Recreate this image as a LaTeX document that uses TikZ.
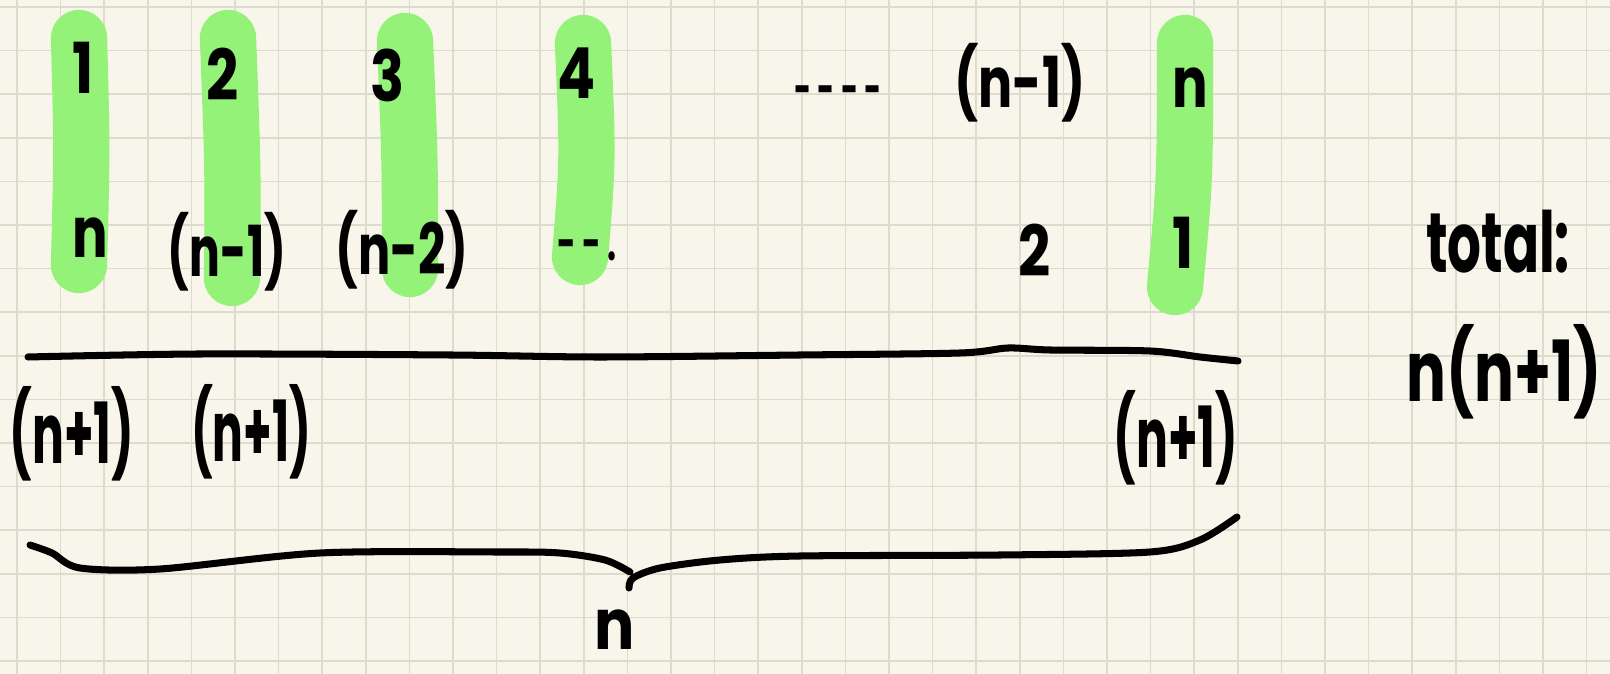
\documentclass[tikz,border=0pt]{standalone}
\usepackage{fontspec}
\setmainfont{Poppins}
\newcommand{\hwx}[2]{\scalebox{#1}[1]{#2}}
\begin{document}
\definecolor{paper}{HTML}{F8F6EA}
\definecolor{gridc}{HTML}{DDDBCE}
\definecolor{hl}{HTML}{94F279}
\begin{tikzpicture}[x=0.01cm,y=-0.01cm,
  gridline/.style={draw=gridc,line width=0.45pt},
  hilite/.style={draw=hl,line width=16pt,line cap=round},
  ink/.style={draw=black,line width=2pt,line cap=round,line join=round},
  lbl/.style={inner sep=0pt,font=\bfseries\fontsize{20}{20}\selectfont},
  small/.style={inner sep=0pt,font=\bfseries\fontsize{14}{14}\selectfont},
  biglbl/.style={inner sep=0pt,font=\bfseries\fontsize{24}{24}\selectfont}]
\fill[paper] (0,0) rectangle (1610,674);
\useasboundingbox (0,0) rectangle (1610,674);
\foreach \i in {0,...,36} \draw[gridline] ({17+43.6*\i},0) -- ({17+43.6*\i},674);
\foreach \j in {0,...,15} \draw[gridline] (0,{7+43.6*\j}) -- (1610,{7+43.6*\j});
% highlight strokes
\draw[hilite] (79,38) .. controls (82,150) .. (79,265);
\draw[hilite] (228,38) .. controls (233,170) .. (232,278);
\draw[hilite] (405,41) .. controls (410,160) .. (410,269);
\draw[hilite] (583,43) .. controls (588,160) .. (580,257);
\draw[hilite] (1185,43) .. controls (1185,180) .. (1175,287);
% row 1
\node[lbl] (a1) at (83,68) {\hwx{0.8}{1}};
\node[lbl] (a2) at (223,74) {\hwx{0.8}{2}};
\node[lbl] (a3) at (388,75) {\hwx{0.8}{3}};
\node[lbl] (a4) at (577,73) {\hwx{0.8}{4}};
\node[small] (adots) at (838,96) {\hwx{0.6}{-\ -\ -\ -}};
\node[lbl] (an1) at (1020,83) {\hwx{0.72}{(n-1)}};
\node[lbl] (an) at (1190,88) {\hwx{0.75}{n}};
% row 2
\node[lbl] (b1) at (90,238) {\hwx{0.75}{n}};
\node[lbl] (b2) at (227,252) {\hwx{0.65}{(n-1)}};
\node[lbl] (b3) at (402,250) {\hwx{0.68}{(n-2)}};
\node[small] (b4) at (587,250) {\hwx{0.65}{- - .}};
\node[lbl] (b5) at (1035,250) {\hwx{0.8}{2}};
\node[lbl] (b6) at (1183,243) {\hwx{0.8}{1}};
% total
\node[biglbl] (tot) at (1498,242) {\hwx{0.63}{total:}};
\node[biglbl] (res) at (1504,372) {\hwx{0.7}{n(n+1)}};
% sum line
\draw[ink] plot[smooth] coordinates {(28,357) (200,354) (450,355) (600,357) (800,355) (960,353) (1008,348) (1050,350) (1150,351) (1200,357) (1238,361)};
% row 3
\node[biglbl] (c1) at (72,434) {\hwx{0.56}{(n+1)}};
\node[biglbl] (c2) at (251,432) {\hwx{0.54}{(n+1)}};
\node[biglbl] (c3) at (1176,438) {\hwx{0.56}{(n+1)}};
% brace
\draw[ink] plot[smooth] coordinates {(30,545) (52,553) (80,568) (160,569) (320,553) (500,552) (560,553) (605,560) (630,572)};
\draw[ink] plot[smooth] coordinates {(629,588) (633,578) (660,568) (720,560) (800,556) (1000,555) (1150,552) (1200,540) (1237,517)};
\node[lbl] (bn) at (615,630) {\hwx{0.85}{n}};
\end{tikzpicture}
\end{document}
